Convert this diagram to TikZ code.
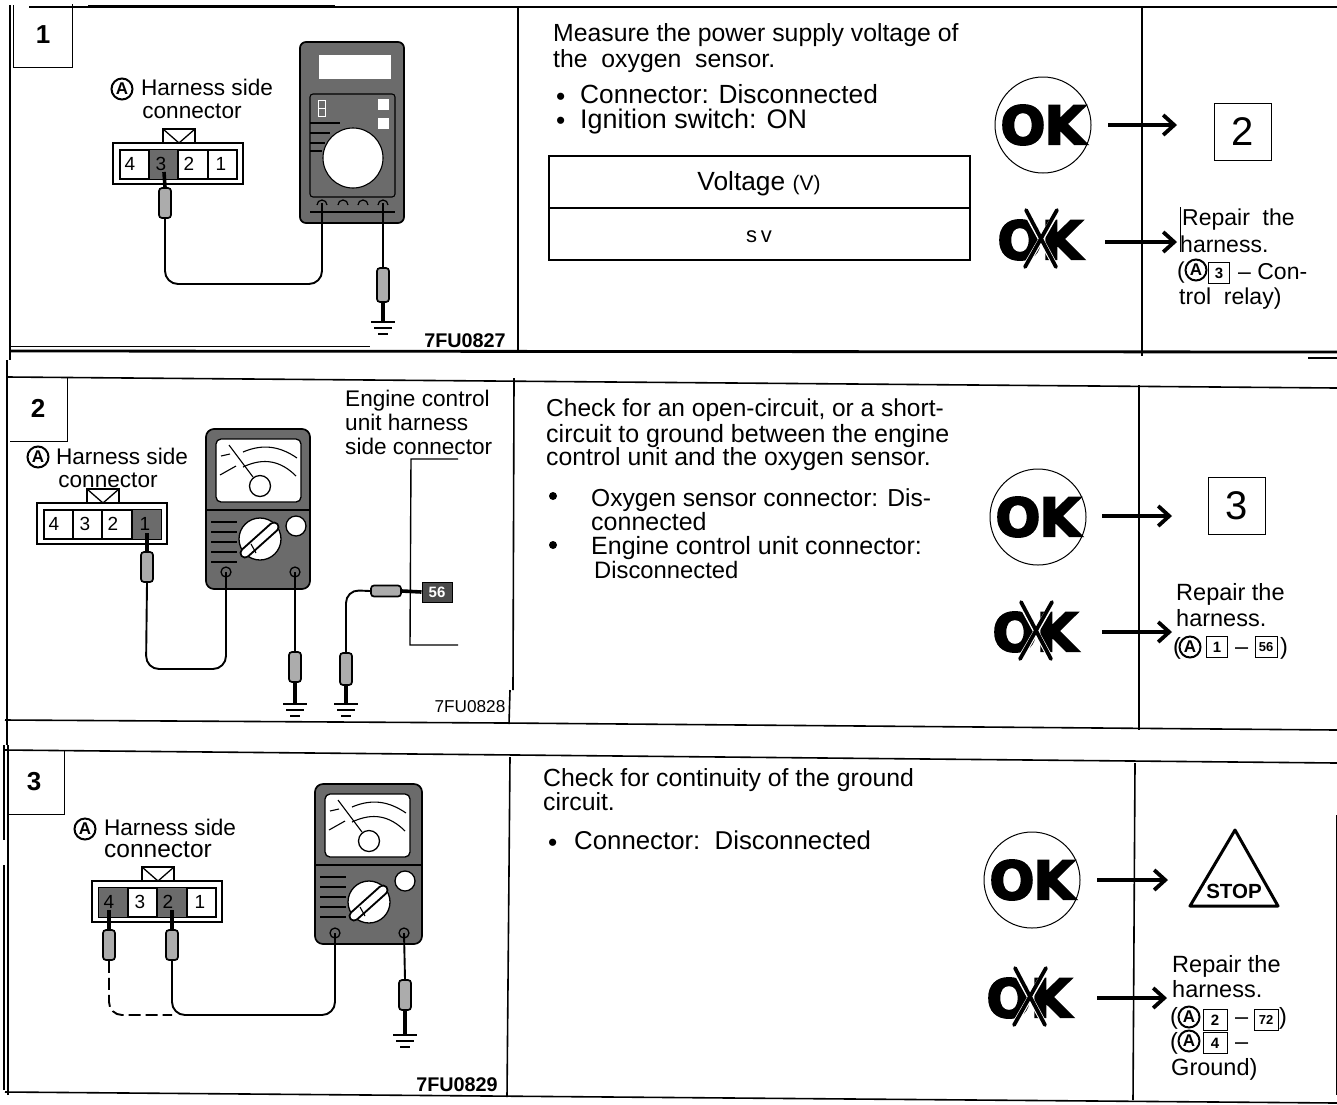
\documentclass[tikz,border=0pt]{standalone}
\usepackage{fontspec}
\setmainfont{Liberation Sans}
\newfontfamily\okfont[BoldFeatures={FakeBold=3.5}]{DejaVu Sans}
\usetikzlibrary{arrows.meta}
\definecolor{dither}{gray}{0.42}
\tikzset{
  frame/.style={line width=1.6pt,black},
  heavy/.style={line width=2.8pt,black},
  thinl/.style={line width=1pt,black},
  txt/.style={anchor=mid west,inner sep=0pt,yshift=-6pt,font=\fontsize{24.8}{26}\selectfont},
  txtbig/.style={txt,font=\fontsize{26.3}{28}\selectfont},
  txtb/.style={txt,font=\fontsize{24.8}{26}\selectfont},
  txtc/.style={txt,font=\fontsize{25}{26}\selectfont},
  txts/.style={txt,font=\fontsize{22.6}{24}\selectfont},
  txtr/.style={txt,font=\fontsize{23.5}{25}\selectfont},
  num/.style={inner sep=0pt,font=\fontsize{26}{28}\selectfont\bfseries},
  bignum/.style={draw,line width=1.6pt,inner sep=0pt,minimum size=57pt,font=\fontsize{40}{42}\selectfont},
  cell/.style={inner sep=0pt,font=\fontsize{19}{20}\selectfont},
  code/.style={inner sep=0pt,font=\fontsize{19.8}{20}\selectfont\bfseries},
  codel/.style={inner sep=0pt,font=\fontsize{17.2}{20}\selectfont},
  circA/.style={circle,draw,line width=2pt,inner sep=0pt,minimum size=21pt,font=\fontsize{17}{17}\selectfont\bfseries},
  tinybox/.style={draw,line width=1pt,inner sep=0pt,minimum width=24pt,minimum height=21pt,font=\fontsize{15}{15}\selectfont\bfseries},
  okt/.style={inner sep=0pt,font=\okfont\bfseries\fontsize{53}{53}\selectfont},
  okring/.style={circle,draw,line width=1pt,minimum size=96pt,inner sep=0pt},
  go/.style={line width=3.2pt,-{Straight Barb[length=11pt,width=20pt,line width=3.8pt]}},
  wire/.style={line width=1.9pt,rounded corners=13pt},
  lead/.style={line width=3.6pt},
  probe/.style={draw,line width=1.7pt,fill=gray!65,rounded corners=3pt,minimum width=12pt,minimum height=30pt,inner sep=0pt},
  probeh/.style={probe,minimum width=30pt,minimum height=11pt},
  meter/.style={draw,line width=1.7pt,fill=dither,rounded corners=8pt},
  white part/.style={draw,line width=1.3pt,fill=white}
}
\newcommand{\harness}[3]{%
 \begin{scope}[shift={(#1,#2)}]
  \draw[line width=1.8pt,fill=white] (50,-14) rectangle (82,0);
  \draw[line width=1.3pt] (50,-14) -- (66,0) -- (82,-14);
  \draw[line width=2.2pt,fill=white] (0,0) rectangle (130,41);
  \draw[line width=1.1pt] (7,7) rectangle (124,36);
  \foreach \a/\b in {#3} \fill[dither] (\a,7) rectangle (\b,36);
  \draw[line width=1.1pt] (36,7) -- (36,36) (65,7) -- (65,36) (95,7) -- (95,36);
  \node[cell] (cf) at (17,21) {4};
  \node[cell] (ct) at (48,21) {3};
  \node[cell] (cw) at (76,21) {2};
  \node[cell] (co) at (108,21) {1};
 \end{scope}}
\newcommand{\analog}[6]{%
 \begin{scope}[shift={(#2,#3)}]
  \draw[meter] (0,0) rectangle (#4,160);
  \draw[white part,rounded corners=5pt] (10,10) rectangle (95,73);
  \draw[line width=1.1pt] (0,81) -- (#4,81);
  \draw[line width=1.1pt] (23,16) -- (47,48);
  \draw[white part] (54,57) circle[radius=10.5pt];
  \draw[line width=1.1pt] (37,23) .. controls (58,14) and (75,18) .. (91,29);
  \draw[line width=1.1pt] (37,38) .. controls (58,28) and (75,32) .. (90,47);
  \draw[line width=1.1pt] (15,27) -- (24,25) (14,46) -- (30,37);
  \foreach \yy in {93,103,113,123,133} \draw[line width=1.1pt] (5,\yy) -- (31,\yy);
  \draw[white part] (54,#5) circle[radius=21pt];
  \draw[line width=11pt,line cap=round] (39,#5+14) -- (68,#5-12);
  \draw[line width=7pt,white,line cap=round] (39,#5+14) -- (68,#5-12);
  \draw[line width=1.1pt] (45,#5+5) -- (50,#5+14);
  \draw[white part] (90,97) circle[radius=10pt];
  \draw[line width=1.3pt] (20,#6) circle[radius=5pt] (89,#6) circle[radius=5pt];
  \coordinate (#1l) at (20,#6);
  \coordinate (#1r) at (89,#6);
 \end{scope}}
\newcommand{\ground}[2]{%
 \draw[line width=2pt] (#1-12,#2) -- (#1+12,#2);
 \draw[line width=1.6pt] (#1-9,#2+6) -- (#1+9,#2+6);
 \draw[line width=1.6pt] (#1-5,#2+12) -- (#1+5,#2+12);}
\newcommand{\okmark}[4]{%
 \node[okring] (#1) at (#3,#4) {};
 \node[okt] (#2) at (#3,#4) {O\kern-1pt K};}
\newcommand{\nomark}[3]{%
 \node[okt] (#1) at (#2,#3) {O\kern-1pt K};
 \draw[white,line width=5.5pt] (#2-14,#3-28) -- (#2+16,#3+27) (#2+17,#3-28) -- (#2-15,#3+27);
 \draw[line width=3.8pt,line cap=round] (#2-14,#3-30) -- (#2+16,#3+27) (#2+17,#3-30) -- (#2-15,#3+27);}
\begin{document}
\begin{tikzpicture}[x=1pt,y=-1pt]
\useasboundingbox (0,0) rectangle (1337,1104);
\fill[white] (0,0) rectangle (1337,1104);

%% ---------- frames
\draw[heavy] (29,7) -- (1337,7);
\draw[thinl] (88,5) -- (335,5);
\draw[frame] (10,5) -- (10,360);
\draw[thinl] (10,346) -- (370,346);
\draw[heavy] (11,351) -- (1337,352);
\draw[heavy] (1308,358) -- (1337,358);
\draw[frame] (518,7) -- (518,351);
\draw[frame,line width=2.2pt] (1142,7) -- (1142,356);
\draw[frame] (7,360) -- (7,745);
\draw[frame] (8,377) -- (1337,388);
\draw[frame] (5,720) -- (505,723) -- (1337,730);
\draw[frame] (514,378) -- (513,690) (510,690) -- (509,724);
\draw[frame] (1139,385) -- (1139,730);
\draw[frame] (8,745) -- (8,1095);
\draw[frame] (4,745) -- (4,840) (4,865) -- (4,1090);
\draw[frame] (4,750) -- (1337,763);
\draw[frame] (5,1092) -- (1337,1103);
\draw[frame] (510,757) -- (507,1097);
\draw[frame] (1135,763) -- (1133,1100);
\draw[thinl] (1336,815) -- (1336,1095);

%% ---------- step boxes
\draw[thinl] (13,5) -- (13,67) -- (72,67) -- (72,4);
\node[num] (n1) at (43,35) {1};
\draw[thinl] (10,441) -- (67,441) -- (67,378);
\node[num] (n2) at (38,408) {2};
\draw[thinl] (8,814) -- (64,814) -- (64,751);
\node[num] (n3) at (34,782) {3};

%% ---------- row 1 picture
\node[circA] (a1) at (122,89) {A};
\node[txts,anchor=mid] (h1a) at (207,87) {Harness side};
\node[txts,anchor=mid] (h1b) at (192,110) {connector};
\harness{113}{143}{36/65}
\draw[line width=1.7pt,fill=dither,rounded corners=6pt] (300,42) rectangle (404,223);
\fill[white] (319,55) rectangle (391,79);
\draw[line width=1.1pt,rounded corners=3pt] (310,94) rectangle (395,197);
\fill[white] (378,99) rectangle (389,110);
\fill[white] (378,118) rectangle (389,129);
\draw[white,line width=1pt] (318,100) rectangle (325,116) (318,108) -- (325,108);
\draw[line width=1.1pt] (310,123) -- (340,123) (310,133) -- (330,133) (310,143) -- (325,143) (310,151) -- (322,151);
\fill[white] (353,158) circle[radius=30pt];
\draw[line width=1.1pt] (353,158) circle[radius=30pt];
\draw[line width=1.2pt] (317,205) arc[start angle=180,end angle=0,radius=5pt]
  (338,205) arc[start angle=180,end angle=0,radius=5pt]
  (358,205) arc[start angle=180,end angle=0,radius=5pt]
  (378,205) arc[start angle=180,end angle=0,radius=5pt];
\draw[line width=1.1pt] (310,212) -- (395,212);
\coordinate (m1l) at (322,203);
\coordinate (m1r) at (383,203);
\coordinate (c1) at (164,172);
\node[probe] (p1) at (165,203) {};
\node[probe,minimum height=34pt] (p1r) at (383,285) {};
\coordinate (g1) at (383,322);
\draw[lead] (c1) -- (p1.north);
\draw[wire] (p1.south) -- (165,284) -- (322,284) -- (m1l);
\draw[line width=1.9pt] (m1r) -- (p1r.north);
\draw[lead] (p1r.south) -- (g1);
\ground{383}{322}
\node[code] (c7a) at (465,341) {7FU0827};

%% ---------- row 1 text
\node[txt] (t11) at (553,33) {Measure the power supply voltage of};
\node[txt] (t12) at (553,59) {the\ \ oxygen\ \ sensor.};
\node[txtbig] (b11) at (556,97) {•};
\node[txtbig] (t13) at (580,95) {Connector: Disconnected};
\node[txtbig] (b12) at (556,121) {•};
\node[txtbig,font=\fontsize{26.9}{28}\selectfont] (t14) at (580,120) {Ignition switch: ON};
\draw[frame] (549,156) rectangle (970,260);
\draw[frame] (549,208) -- (970,208);
\node[txtbig,anchor=mid] (v1) at (759,182) {Voltage {\fontsize{21}{21}\selectfont(V)}};
\node[txt,anchor=mid,font=\fontsize{22}{22}\selectfont] (v2) at (759,234) {s\,v};
\okmark{r1}{k1}{1043}{125}
\coordinate (as1) at (1108,125);
\coordinate (ae1) at (1177,125);
\draw[go] (as1) -- (ae1);
\node[bignum] (b2) at (1243,132) {2};
\nomark{x1}{1040}{240}
\coordinate (as2) at (1105,242);
\coordinate (ae2) at (1177,242);
\draw[go] (as2) -- (ae2);
\draw[line width=0.7pt] (1180,207) -- (1180,252);
\node[txtr,font=\fontsize{23}{24}\selectfont] (r11) at (1182,217) {Repair\ \ the};
\node[txtr,font=\fontsize{23}{24}\selectfont] (r12) at (1180,244) {harness.};
\node[txtr,font=\fontsize{23}{24}\selectfont] (r13) at (1177,270) {(};
\node[circA] (r1a) at (1196,270) {A};
\node[tinybox,minimum width=21pt] (r1b) at (1219,273) {3};
\node[txtr,font=\fontsize{23}{24}\selectfont] (r14) at (1238,271) {– Con-};
\node[txtr,font=\fontsize{23}{24}\selectfont] (r15) at (1179,296) {trol\ \ relay)};

%% ---------- row 2 picture
\node[circA] (a2) at (38,457) {A};
\node[txts,anchor=mid] (h2a) at (122,456) {Harness side};
\node[txts,anchor=mid] (h2b) at (108,479) {connector};
\harness{37}{503}{95/124}
\analog{m2}{206}{429}{104}{110}{143}
\coordinate (c2) at (147,533);
\node[probe] (p2) at (147,567) {};
\node[probe] (p2r) at (295,667) {};
\draw[lead] (c2) -- (p2.north);
\draw[wire] (p2.south) -- (146,669) -- (226,669) -- (m2l);
\draw[line width=1.9pt] (m2r) -- (p2r.north);
\draw[lead] (p2r.south) -- (295,704);
\ground{295}{704}
\node[txts] (e1) at (345,398) {Engine control};
\node[txts] (e2) at (345,422) {unit harness};
\node[txts] (e3) at (345,446) {side connector};
\draw[line width=1.4pt] (458,459) -- (411,459) -- (410,645) -- (458,645);
\node[draw,line width=1pt,fill=dither!70!black,minimum width=30pt,minimum height=20pt,inner sep=0pt,text=white,font=\fontsize{15}{15}\selectfont\bfseries] (b56) at (437,592) {56};
\node[probeh] (p3h) at (386,591) {};
\node[probe,minimum height=32pt] (p3v) at (346,669) {};
\draw[lead] (p3h.east) -- (b56.west);
\draw[wire] (p3h.west) -- (346,590) -- (p3v.north);
\draw[lead] (p3v.south) -- (346,704);
\ground{346}{704}
\node[codel] (c7b) at (470,707) {7FU0828};

%% ---------- row 2 text
\node[txtb,font=\fontsize{24.5}{26}\selectfont] (t21) at (546,408) {Check for an open-circuit, or a short-};
\node[txtb,font=\fontsize{25}{26}\selectfont] (t22) at (546,434) {circuit to ground between the engine};
\node[txtb] (t23) at (546,457) {control unit and the oxygen sensor.};
\fill (553,496) circle[radius=4pt];
\fill (553,545) circle[radius=4pt];
\node[txtb,font=\fontsize{24.6}{26}\selectfont] (t24) at (591,498) {Oxygen sensor connector: Dis-};
\node[txtb,font=\fontsize{25}{26}\selectfont] (t25) at (591,522) {connected};
\node[txtc] (t26) at (591,546) {Engine control unit connector:};
\node[txtb,font=\fontsize{23.8}{26}\selectfont] (t27) at (594,570) {Disconnected};
\okmark{r2}{k2}{1038}{517}
\coordinate (as3) at (1102,516);
\coordinate (ae3) at (1172,516);
\draw[go] (as3) -- (ae3);
\node[bignum] (b3) at (1237,506) {3};
\nomark{x2}{1035}{632}
\coordinate (as4) at (1102,632);
\coordinate (ae4) at (1172,632);
\draw[go] (as4) -- (ae4);
\node[txtr] (r21) at (1176,592) {Repair the};
\node[txtr] (r22) at (1176,618) {harness.};
\node[txtr] (r23) at (1173,646) {(};
\node[circA] (r2a) at (1190,647) {A};
\node[tinybox,minimum width=21pt] (r2b) at (1217,647) {1};
\node[txtr] (r24) at (1235,646) {–};
\node[tinybox,minimum width=22pt,font=\fontsize{13}{13}\selectfont\bfseries] (r25) at (1266,647) {56};
\node[txtr] (r26) at (1280,646) {)};

%% ---------- row 3 picture
\node[circA] (a3) at (85,829) {A};
\node[txts,anchor=mid] (h3a) at (170,827) {Harness side};
\node[txts,anchor=mid,font=\fontsize{24.5}{26}\selectfont] (h3b) at (158,849) {connector};
\harness{92}{881}{7/36,65/95}
\analog{m3}{315}{784}{107}{118}{149}
\coordinate (c3a) at (109,910);
\coordinate (c3b) at (172,910);
\node[probe] (p4) at (109,945) {};
\node[probe] (p5) at (172,945) {};
\node[probe] (p6) at (405,995) {};
\draw[lead] (c3a) -- (p4.north);
\draw[lead] (c3b) -- (p5.north);
\draw[wire] (p5.south) -- (172,1015) -- (335,1015) -- (m3l);
\draw[line width=1.9pt,dash pattern=on 12pt off 5pt,rounded corners=13pt] (p4.south) -- (109,1015) -- (172,1015);
\draw[line width=1.9pt] (m3r) -- (p6.north);
\draw[lead] (p6.south) -- (405,1035);
\ground{405}{1035}
\node[code] (c7c) at (457,1085) {7FU0829};

%% ---------- row 3 text
\node[txtb] (t31) at (543,778) {Check for continuity of the ground};
\node[txtb] (t32) at (543,802) {circuit.};
\node[txtbig] (b31) at (548,843) {•};
\node[txtbig,font=\fontsize{25.8}{27}\selectfont] (t33) at (574,841) {Connector:\ \ Disconnected};
\okmark{r3}{k3}{1032}{880}
\coordinate (as5) at (1097,880);
\coordinate (ae5) at (1168,880);
\draw[go] (as5) -- (ae5);
\draw[line width=3pt,line join=round] (1235,830) -- (1190,906) -- (1278,906) -- cycle;
\node[inner sep=1pt,fill=white,font=\fontsize{20.5}{20}\selectfont\bfseries] (stop) at (1234,891) {STOP};
\nomark{x3}{1029}{998}
\coordinate (as6) at (1097,998);
\coordinate (ae6) at (1167,998);
\draw[go] (as6) -- (ae6);
\node[txtr] (r31) at (1172,964) {Repair the};
\node[txtr] (r32) at (1172,989) {harness.};
\node[txtr] (r33) at (1170,1016) {(};
\node[circA] (r3a) at (1189,1017) {A};
\node[tinybox] (r3b) at (1215,1020) {2};
\node[txtr] (r34) at (1235,1016) {–};
\node[tinybox,font=\fontsize{13}{13}\selectfont\bfseries] (r35) at (1266,1020) {72};
\node[txtr] (r36) at (1279,1016) {)};
\node[txtr] (r37) at (1170,1041) {(};
\node[circA] (r3c) at (1189,1041) {A};
\node[tinybox] (r3d) at (1215,1043) {4};
\node[txtr] (r38) at (1235,1041) {–};
\node[txtr] (r39) at (1171,1067) {Ground)};
\end{tikzpicture}
\end{document}
